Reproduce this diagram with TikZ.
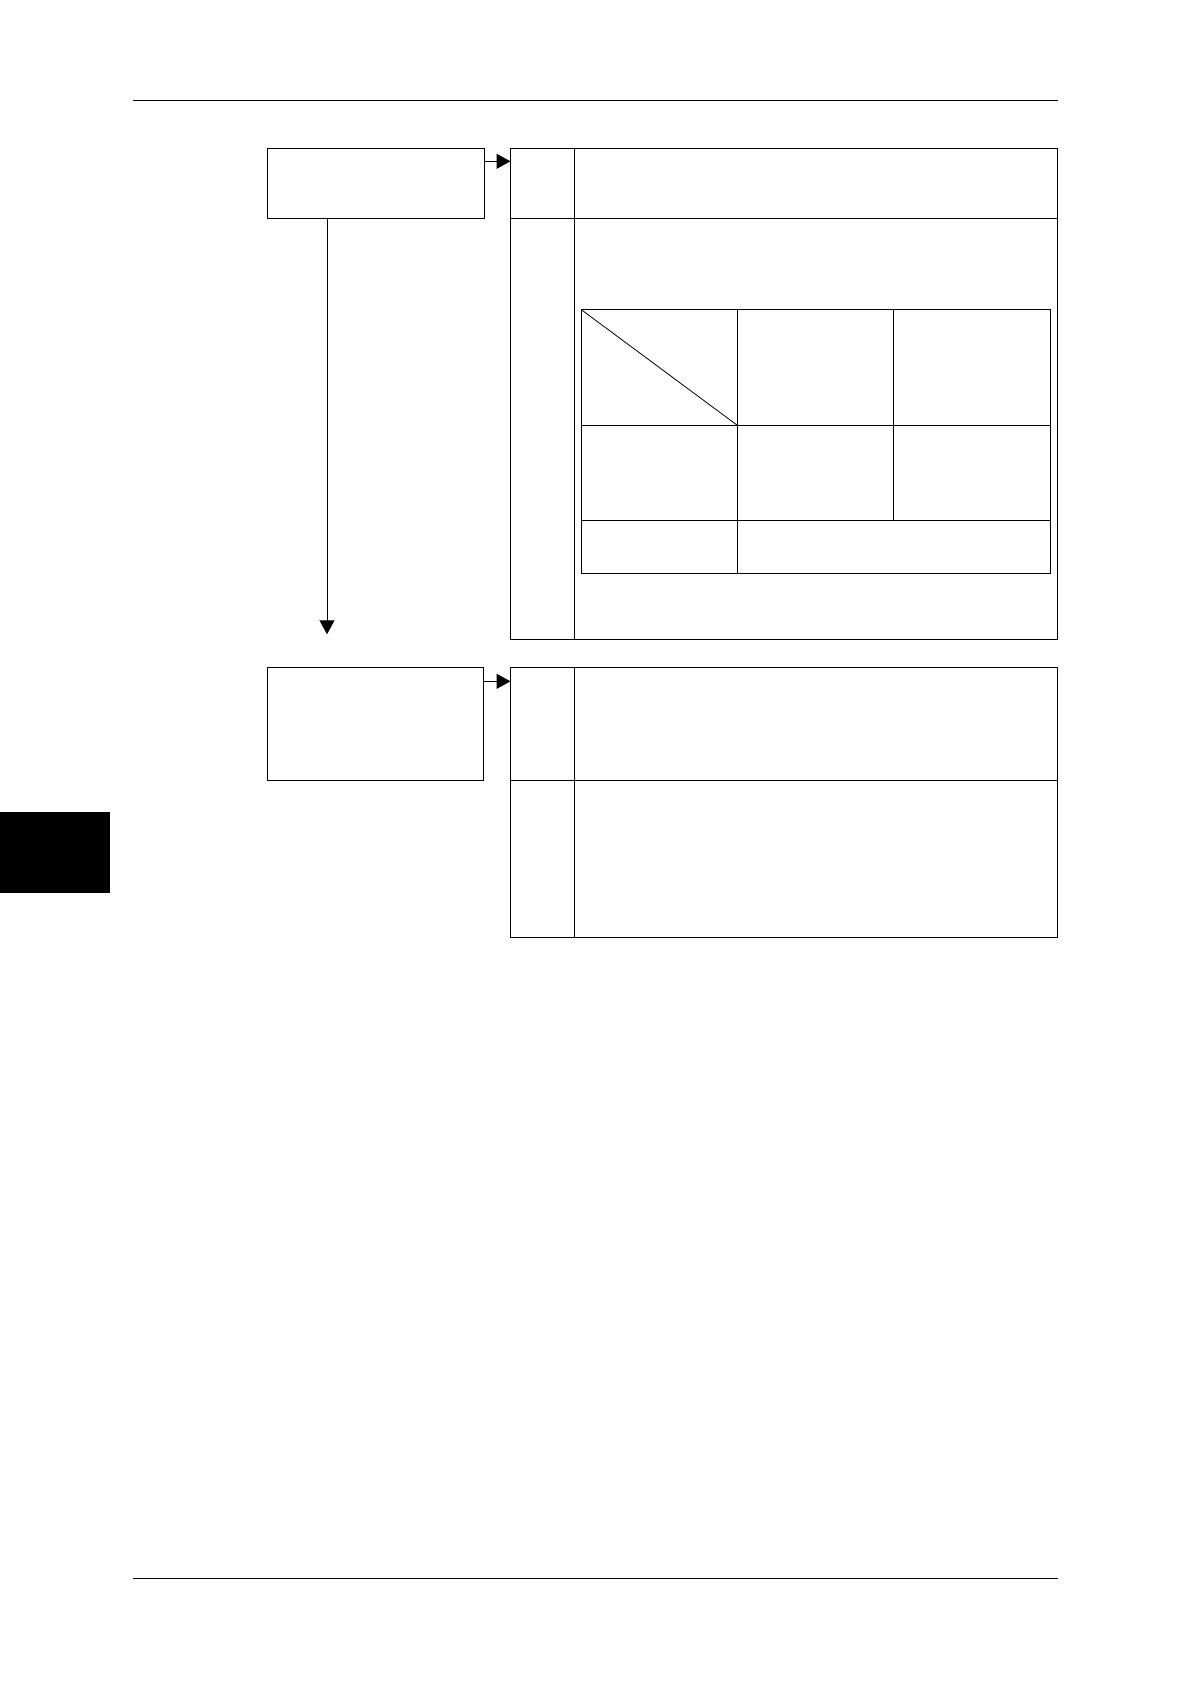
\documentclass[tikz,border=0pt]{standalone}
\usetikzlibrary{arrows.meta,calc}
\tikzset{
  cell/.style={draw, line width=0.5pt, inner sep=0pt, outer sep=0pt, anchor=north west},
  flow/.style={line width=0.5pt, -{Triangle[length=7pt,width=7.5pt]}},
  rule/.style={line width=0.7pt}
}
\begin{document}
\begin{tikzpicture}[x=0.5pt,y=-0.5pt]
  \useasboundingbox (0,0) rectangle (1190,1684);
  % page rules and tab
  \draw[rule] (133,100.3) -- (1057.5,100.3);
  \draw[rule] (133,1578.3) -- (1057.5,1578.3);
  \fill (0,812) rectangle (110,892.7);

  % left boxes
  \node[cell, minimum width=108.5pt, minimum height=35pt] (box1) at (267,148.3) {};
  \node[cell, minimum width=108.3pt, minimum height=56.5pt] (box2) at (267.2,667.3) {};

  % first table
  \node[cell, minimum width=32pt, minimum height=35pt] (t1a) at (510.5,148.3) {};
  \node[cell, minimum width=241.4pt, minimum height=35pt] (t1b) at (t1a.north east) {};
  \node[cell, minimum width=32pt, minimum height=210.5pt] (t1c) at (t1a.south west) {};
  \node[cell, minimum width=241.4pt, minimum height=210.5pt] (t1d) at (t1c.north east) {};

  % inner table
  \node[cell, minimum width=78pt, minimum height=57.8pt] (i11) at (581.3,309.7) {};
  \node[cell, minimum width=78pt, minimum height=57.8pt] (i12) at (i11.north east) {};
  \node[cell, minimum width=78.5pt, minimum height=57.8pt] (i13) at (i12.north east) {};
  \node[cell, minimum width=78pt, minimum height=47.35pt] (i21) at (i11.south west) {};
  \node[cell, minimum width=78pt, minimum height=47.35pt] (i22) at (i21.north east) {};
  \node[cell, minimum width=78.5pt, minimum height=47.35pt] (i23) at (i22.north east) {};
  \node[cell, minimum width=78pt, minimum height=26.65pt] (i31) at (i21.south west) {};
  \node[cell, minimum width=156.5pt, minimum height=26.65pt] (i32) at (i31.north east) {};
  \draw[line width=0.4pt] (i11.north west) -- (i11.south east);

  % second table
  \node[cell, minimum width=32pt, minimum height=56.5pt] (t2a) at (510.5,667.3) {};
  \node[cell, minimum width=241.4pt, minimum height=56.5pt] (t2b) at (t2a.north east) {};
  \node[cell, minimum width=32pt, minimum height=78.35pt] (t2c) at (t2a.south west) {};
  \node[cell, minimum width=241.4pt, minimum height=78.35pt] (t2d) at (t2c.north east) {};

  % arrows
  \draw[flow] ($(box1.north east)+(0,13)$) -- ($(t1a.north west)+(0,13)$);
  \draw[flow] ($(box2.north east)+(0,14)$) -- ($(t2a.north west)+(0,14)$);
  \coordinate (gap) at ($(box1.south west)+(60,416)$);
  \draw[flow] (box1.south -| gap) -- (gap);
\end{tikzpicture}
\end{document}
